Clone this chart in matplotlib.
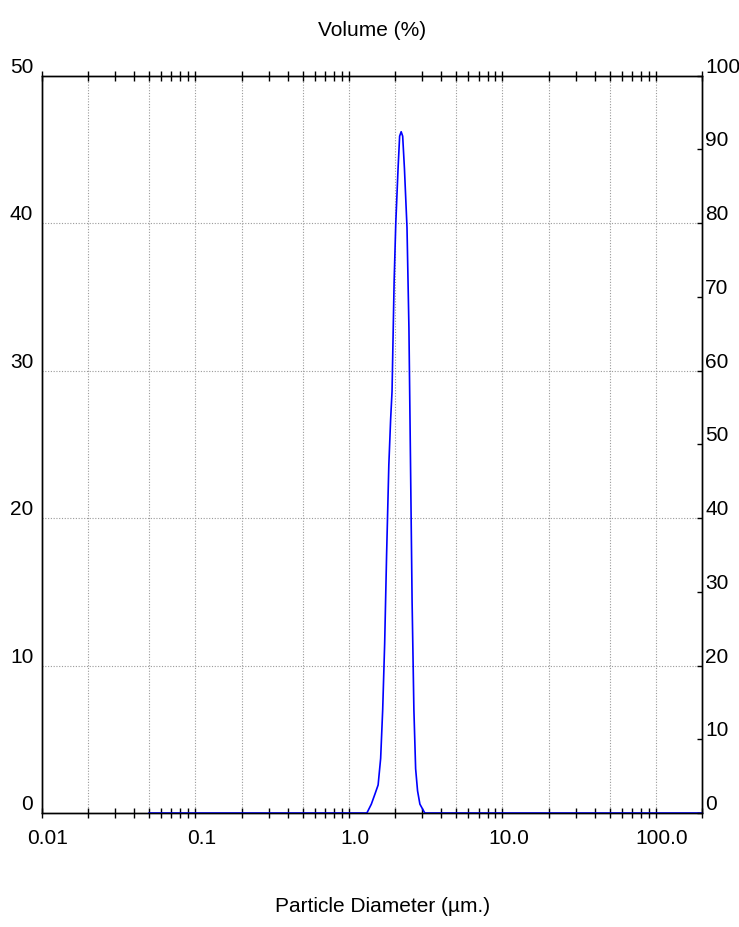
import matplotlib
matplotlib.use("Agg")
import matplotlib.pyplot as plt
import matplotlib.transforms as mtransforms
from matplotlib.ticker import LogLocator, FixedLocator, NullFormatter

plt.rcParams['font.family'] = ['Liberation Sans', 'DejaVu Sans']

# particle size distribution
diameter = [0.05, 1.31, 1.40, 1.48, 1.55, 1.61, 1.66, 1.71, 1.76, 1.82, 1.87, 1.91,
            1.97, 2.02, 2.09, 2.14, 2.19, 2.24, 2.30, 2.39, 2.46, 2.52, 2.58, 2.65,
            2.72, 2.80, 2.90, 3.12, 200]
volume = [0, 0, 0.6, 1.3, 1.9, 3.7, 7.0, 11.5, 17.5, 23.6, 26.7, 28.6,
          36.0, 40.0, 43.7, 45.9, 46.2, 45.9, 43.7, 39.7, 32.9, 23.6, 14.3, 7.0,
          3.0, 1.5, 0.6, 0, 0]

x_major = [0.01, 0.1, 1, 10, 100]
x_labels = ["0.01", "0.1", "1.0", "10.0", "100.0"]
x_grid = [0.02, 0.05, 0.1, 0.2, 0.5, 1, 2, 5, 10, 20, 50, 100]
y_left = [0, 10, 20, 30, 40, 50]
y_right = [0, 10, 20, 30, 40, 50, 60, 70, 80, 90, 100]
y_grid = [10, 20, 30, 40]

fs = 15
fig = plt.figure(figsize=(7.39, 9.28), dpi=100)
ax = fig.add_axes([41.7 / 739, 1 - 814 / 928, (702.3 - 41.7) / 739, (814 - 76.7) / 928])

ax.set_xscale('log')
ax.set_xlim(0.01, 200)
ax.set_ylim(0, 50)

for gx in x_grid:
    ax.axvline(gx, color='#9a9a9a', lw=0.8, ls=(0, (1, 1.5)), zorder=1)
for gy in y_grid:
    ax.axhline(gy, color='#9a9a9a', lw=0.8, ls=(0, (1, 1.5)), zorder=1)

ax.plot(diameter, volume, color='#0000ff', lw=1.2, zorder=3, clip_on=False)

for s in ax.spines.values():
    s.set_linewidth(1.0)
    s.set_color('black')

# x axis: ticks on top and bottom, crossing the frame
ax.xaxis.set_major_locator(FixedLocator(x_major))
ax.set_xticklabels(x_labels, fontsize=fs)
ax.xaxis.set_minor_locator(LogLocator(base=10, subs=range(2, 10), numticks=20))
ax.xaxis.set_minor_formatter(NullFormatter())
ax.tick_params(axis='x', which='both', direction='inout', length=7, width=1.0,
               top=True, bottom=True, pad=7)
offset = mtransforms.ScaledTranslation(6 / 100, 0, fig.dpi_scale_trans)
for lab in ax.get_xticklabels():
    lab.set_transform(lab.get_transform() + offset)

# left axis: labels only
ax.set_yticks(y_left)
ax.set_yticklabels([str(v) for v in y_left], fontsize=fs)
ax.tick_params(axis='y', length=0, pad=6)
for lab in ax.get_yticklabels():
    lab.set_va('bottom')

# right axis 0-100
ax2 = ax.twinx()
ax2.set_ylim(0, 100)
ax2.set_yticks(y_right)
ax2.set_yticklabels([str(v) for v in y_right], fontsize=fs)
ax2.tick_params(axis='y', direction='in', length=3.6, width=1.0, pad=2)
for lab in ax2.get_yticklabels():
    lab.set_va('bottom')
for s in ax2.spines.values():
    s.set_linewidth(1.0)

fig.text(372 / 739, 1 - 30 / 928, "Volume (%)", fontsize=fs, ha='center', va='center')
fig.text(383 / 739, 1 - 907 / 928, "Particle Diameter (µm.)", fontsize=fs,
         ha='center', va='center')

fig.savefig("out.png", dpi=100)
